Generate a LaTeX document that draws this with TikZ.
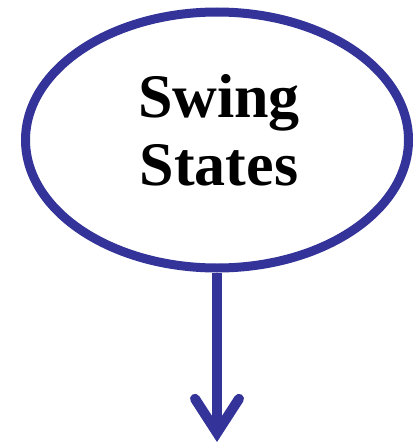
\documentclass[tikz,border=0pt]{standalone}
\usepackage{fontspec}
\setmainfont{Liberation Serif}
\usepackage{tikz}
\usetikzlibrary{shapes.geometric, arrows.meta, positioning}
\definecolor{swingblue}{RGB}{51,51,153}
\tikzset{
  swingoval/.style={ellipse, draw=swingblue, fill=white, line width=9pt,
    minimum width=383pt, minimum height=256pt, inner sep=0pt},
  swingtext/.style={align=center, font=\fontsize{62}{68}\selectfont\bfseries,
    inner sep=0pt},
  arrow/.style={-{Straight Barb[length=34pt,width=44pt,line cap=round,line join=miter]},
    line width=10pt, color=swingblue}
}
\begin{document}
\begin{tikzpicture}[x=1pt, y=-1pt]
  \useasboundingbox (0,0) rectangle (415,444);
  % Oval and its label
  \node[swingoval] (swing) at (217,140) {};
  \node[swingtext] (swinglabel) at (219,130.5) {Swing\\States};

  % Arrow down
  \coordinate (tip) at (217,442);
  \draw[arrow] (swing.south) -- (tip);
\end{tikzpicture}
\end{document}
